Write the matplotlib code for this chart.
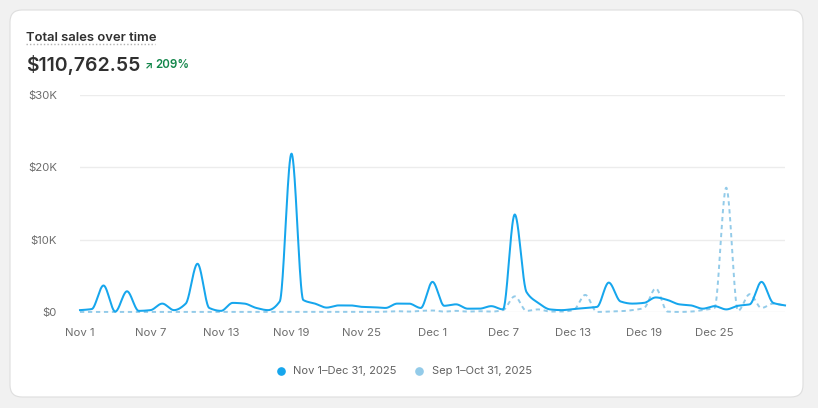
import numpy as np
import matplotlib
matplotlib.use("Agg")
import matplotlib.pyplot as plt
from matplotlib.patches import FancyBboxPatch
from matplotlib.transforms import IdentityTransform
from matplotlib.lines import Line2D

# ---------------- data ----------------
current_label = "Nov 1\u2013Dec 31, 2025"
previous_label = "Sep 1\u2013Oct 31, 2025"

# daily sales (in $K), day 0 = Nov 1 ... day 60 = Dec 31
current_sales = [
    0.3, 0.45, 3.7, 0.1, 2.9, 0.2, 0.3, 1.2, 0.3, 1.2,
    6.7, 0.6, 0.2, 1.3, 1.2, 0.6, 0.3, 1.5, 21.9, 1.7,
    1.2, 0.65, 0.95, 0.95, 0.75, 0.7, 0.6, 1.2, 1.2, 0.6,
    4.2, 0.9, 1.1, 0.5, 0.5, 0.85, 0.4, 13.5, 2.8, 1.3,
    0.4, 0.3, 0.45, 0.6, 0.75, 4.1, 1.5, 1.2, 1.3, 2.05,
    1.7, 1.1, 0.95, 0.5, 0.85, 0.4, 0.9, 1.1, 4.2, 1.3,
    0.95,
]
previous_sales = [
    0.05, 0.05, 0.05, 0.05, 0.05, 0.05, 0.05, 0.05, 0.05, 0.05,
    0.05, 0.05, 0.05, 0.05, 0.05, 0.05, 0.05, 0.05, 0.05, 0.05,
    0.05, 0.05, 0.05, 0.05, 0.05, 0.05, 0.1, 0.15, 0.1, 0.2,
    0.25, 0.1, 0.2, 0.1, 0.15, 0.1, 0.3, 2.2, 0.2, 0.4,
    0.1, 0.1, 0.3, 2.4, 0.05, 0.1, 0.15, 0.3, 0.6, 3.3,
    0.1, 0.05, 0.1, 0.3, 0.6, 17.2, 0.2, 2.5, 0.6, 1.2,
    0.9,
]
tick_days = [0, 6, 12, 18, 24, 30, 36, 42, 48, 54]
tick_labels = ["Nov 1", "Nov 7", "Nov 13", "Nov 19", "Nov 25",
               "Dec 1", "Dec 7", "Dec 13", "Dec 19", "Dec 25"]
y_ticks = [0, 10000, 20000, 30000]
y_tick_labels = ["$0", "$10K", "$20K", "$30K"]

title = "Total sales over time"
total_value = "$110,762.55"
change_text = "209%"

# ---------------- helpers ----------------
def monotone_cubic(x, y, xn):
    x = np.asarray(x, float); y = np.asarray(y, float)
    h = np.diff(x); d = np.diff(y) / h
    n = len(x)
    m = np.zeros(n)
    m[0] = d[0]; m[-1] = d[-1]
    for k in range(1, n - 1):
        if d[k - 1] * d[k] <= 0:
            m[k] = 0.0
        else:
            w1 = 2 * h[k] + h[k - 1]
            w2 = h[k] + 2 * h[k - 1]
            m[k] = (w1 + w2) / (w1 / d[k - 1] + w2 / d[k])
    idx = np.clip(np.searchsorted(x, xn) - 1, 0, n - 2)
    hh = h[idx]
    t = (xn - x[idx]) / hh
    h00 = 2 * t**3 - 3 * t**2 + 1
    h10 = t**3 - 2 * t**2 + t
    h01 = -2 * t**3 + 3 * t**2
    h11 = t**3 - t**2
    return h00 * y[idx] + h10 * hh * m[idx] + h01 * y[idx + 1] + h11 * hh * m[idx + 1]

FONT = ["Inter", "DejaVu Sans"]
plt.rcParams["font.family"] = FONT

W, H = 818, 408
fig = plt.figure(figsize=(W / 100, H / 100), dpi=100, facecolor="#f1f1f1")

# card
card = FancyBboxPatch((10, H - 397), 793, 387,
                      boxstyle="round,pad=0,rounding_size=12",
                      transform=IdentityTransform(), facecolor="white",
                      edgecolor="#dedede", linewidth=0.8, zorder=-5)
fig.patches.append(card)

def fx(px):
    return px / W

def fy(py):
    return 1 - py / H

ax = fig.add_axes([fx(80), fy(312.3), fx(785) - fx(80), fy(95) - fy(312.3)], zorder=1)
ax.patch.set_alpha(0)

days = np.arange(len(current_sales))
xs = np.linspace(0, days[-1], 3000)
cur = monotone_cubic(days, np.array(current_sales) * 1000, xs)
prev = monotone_cubic(days, np.array(previous_sales) * 1000, xs)

ax.plot(xs, prev, color="#93cbe9", lw=1.4, linestyle=(0, (2.2, 1.9)),
        zorder=2, clip_on=False)
ax.plot(xs, cur, color="#16a6ed", lw=1.45, zorder=3, clip_on=False)

ax.set_xlim(0, days[-1])
ax.set_ylim(0, 30000)
ax.set_yticks(y_ticks)
ax.set_yticklabels(y_tick_labels)
ax.set_xticks(tick_days)
ax.set_xticklabels(tick_labels)
ax.grid(axis="y", color="#ececec", lw=1)
ax.grid(axis="x", visible=False)
ax.set_axisbelow(True)
for s in ax.spines.values():
    s.set_visible(False)
ax.tick_params(axis="y", length=0, pad=16.5, labelsize=8.2, labelcolor="#6d6d6d")
ax.tick_params(axis="x", length=0, pad=11, labelsize=8.2, labelcolor="#6d6d6d")

# header texts
fig.text(fx(26), fy(40.7), title, fontsize=9.4, fontweight="semibold",
         color="#303030", va="baseline", ha="left")
fig.add_artist(Line2D([fx(26), fx(155)], [fy(44.3), fy(44.3)], color="#b0b0b0",
                      lw=1, linestyle=(0, (1, 1.5))))
fig.text(fx(26), fy(70.7), total_value, fontsize=14, fontweight="semibold",
         color="#303030", va="baseline", ha="left")
fig.text(fx(144.5), fy(68.3), "\u2197", fontsize=7.5, fontweight="bold",
         color="#12864a", va="baseline", ha="left", family=FONT)
fig.text(fx(155.5), fy(68.3), change_text, fontsize=8.3, fontweight="semibold",
         color="#12864a", va="baseline", ha="left")

# legend
leg_y = fy(371)
fig.add_artist(Line2D([fx(281)], [leg_y], marker="o", markersize=5.2,
                      color="#16a6ed", lw=0))
fig.text(fx(293), leg_y, current_label, fontsize=8, color="#616161",
         va="center", ha="left")
fig.add_artist(Line2D([fx(419.5)], [leg_y], marker="o", markersize=5.2,
                      color="#93cbe9", lw=0))
fig.text(fx(431.5), leg_y, previous_label, fontsize=8, color="#616161",
         va="center", ha="left")

fig.savefig("out.png", dpi=100, facecolor=fig.get_facecolor())
